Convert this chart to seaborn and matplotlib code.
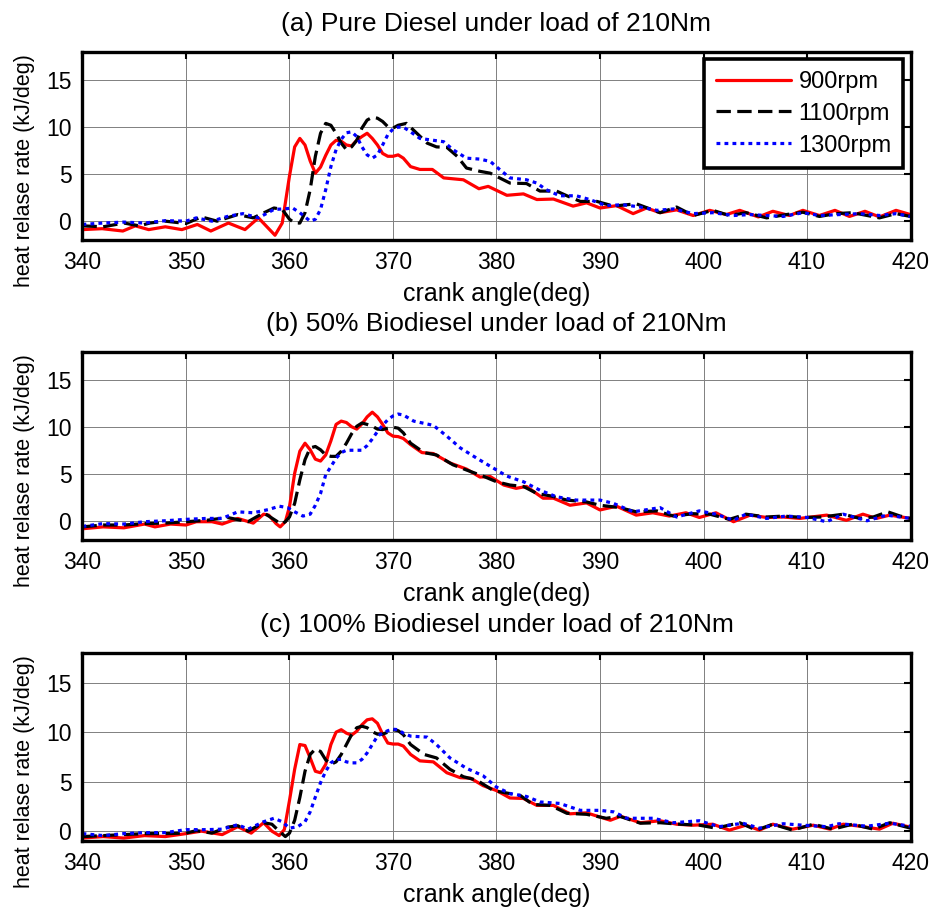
import matplotlib
matplotlib.use("Agg")
import matplotlib.pyplot as plt
import seaborn as sns
import pandas as pd

# ---------------- data ----------------
speeds = ["900rpm", "1100rpm", "1300rpm"]
titles = ["(a) Pure Diesel under load of 210Nm",
          "(b) 50% Biodiesel under load of 210Nm",
          "(c) 100% Biodiesel under load of 210Nm"]
x_ticks = [340, 350, 360, 370, 380, 390, 400, 410, 420]
y_ticks = [0, 5, 10, 15]

# Panel (a) pure diesel
a900_x = [340, 341.9, 343.9, 345.1, 346.4, 348, 349.6, 351.1, 352.4, 354.1, 355.7, 357, 358.6, 359.3,
          360, 360.5, 361, 361.5, 362, 362.5, 363, 363.5, 364, 364.5, 365, 365.5, 366, 366.5, 367, 367.5,
          368, 368.5, 369, 369.5, 370, 370.5, 371,
          371.7, 372.6, 373.8, 374.9, 376.8, 378.3, 379.2, 381, 382.6, 383.9, 385.5, 387.4, 388.7, 390,
          391.6, 393.2, 394.5, 395.8, 397.4, 399, 400.6, 402.2, 403.5, 405.3, 406.7, 408.3, 409.6, 411.2,
          412.7, 414.1, 415.6, 417, 418.6, 420]
a900_y = [-0.9, -0.8, -1.05, -0.5, -0.9, -0.6, -0.9, -0.35, -1.05, -0.2, -0.9, 0.35, -1.5, -0.2,
          4.8, 7.9, 8.8, 8.1, 6.4, 5.1, 5.75, 7.0, 8.1, 8.6, 8.5, 8.1, 8.0, 8.6, 9.0, 9.35,
          8.8, 8.1, 7.2, 6.9, 6.9, 7.05, 6.7,
          5.8, 5.5, 5.5, 4.6, 4.4, 3.45, 3.7, 2.75, 2.9, 2.3, 2.35, 1.6, 1.95, 1.4,
          1.65, 0.8, 1.4, 0.9, 1.2, 0.6, 1.15, 0.7, 1.15, 0.45, 1.05, 0.6, 1.15, 0.6,
          1.15, 0.5, 1.05, 0.45, 1.15, 0.7]
a1100_x = [340, 342, 344, 345.5, 346.5, 348, 350, 351.5, 353, 355, 356.5, 358.5, 359.3, 360, 360.5,
           361, 361.5, 362, 362.5, 363, 363.5, 364, 364.5, 365, 365.5, 366, 366.5, 367, 367.5, 368,
           368.5, 369, 369.5, 370, 370.5, 371.3, 372.3, 373.3, 374.2, 375.2, 376.2, 377.1, 378.4, 379.4,
           380.3, 381.3, 382.9, 384.2, 385.8, 386.8, 388.1, 389.7, 391.3, 393.5, 395.8, 397.4, 399,
           400.9, 402.5, 404.1, 406.1, 408, 409.6, 411.2, 412.8, 414.4, 417, 418.6, 420]
a1100_y = [-0.5, -0.6, -0.2, -0.5, -0.2, 0, -0.25, 0.45, 0, 0.7, 0.35, 1.4, 1.25, 0.2, -0.2,
           -0.2, 0.9, 3.35, 6.9, 9.35, 10.4, 10.2, 9.35, 8.3, 7.6, 7.9, 8.6, 9.9, 10.75, 11.05,
           10.95, 10.6, 10.05, 9.9, 10.2, 10.4, 9.35, 8.3, 7.9, 7.85, 6.9, 5.65, 5.3, 5.1,
           4.6, 4.05, 4.0, 3.2, 3.2, 2.7, 2.1, 2.1, 1.6, 1.85, 0.9, 1.5, 0.6,
           1.15, 0.6, 0.9, 0.35, 0.7, 0.95, 0.5, 0.8, 0.9, 0.35, 0.8, 0.5]
a1300_x = [340, 342, 344, 346, 348, 350, 351, 352.5, 354, 355.5, 357, 358.5, 359.5, 360.3, 361, 362,
           362.5, 363, 363.5, 364, 364.5, 365, 365.5, 366, 366.5, 367, 367.5, 368, 368.5, 369, 369.5,
           370, 370.5, 371, 371.7, 372.6, 373.9, 374.9, 375.8, 377.1, 378.4, 379.4, 380.3, 381.3, 382.9,
           383.9, 384.8, 386.1, 387.7, 389, 390.6, 392.2, 393.9, 395.5, 397.1, 399, 400.9, 402.9, 404.5,
           407.7, 409.6, 411.2, 413.1, 415.1, 417, 418.6, 420]
a1300_y = [-0.35, -0.2, -0.1, -0.2, 0.05, 0, 0.35, 0, 0.5, 0.8, 0.35, 1.25, 1.3, 1.4, 0.9, 0,
           0.2, 1.25, 3.35, 5.8, 7.6, 8.7, 9.4, 9.5, 9.0, 7.9, 7.05, 6.7, 7.05, 8.1, 9.2,
           9.8, 10.0, 10.0, 9.5, 8.8, 8.6, 8.45, 7.6, 6.7, 6.6, 6.35, 5.5, 4.6, 4.4,
           4.05, 3.35, 2.7, 2.7, 2.3, 1.65, 1.75, 1.5, 1.15, 1.3, 0.8, 0.9, 0.6, 0.7,
           0.5, 0.9, 0.6, 0.7, 0.8, 0.6, 0.8, 0.5]

# Panel (b) 50% biodiesel
b900_x = [340, 342, 344, 346, 347, 348.5, 350, 351, 352.5, 353.5, 355, 356.5, 357.5, 358, 358.7, 359.1,
          359.6, 360, 360.5, 361, 361.5, 362, 362.5, 363, 363.5, 364, 364.5, 365, 365.5, 366, 366.5,
          367, 367.5, 368, 368.5, 369, 369.5, 370, 370.5, 371, 371.7, 372.8, 373.9, 375.5, 377.1,
          378.4, 379.4, 380.7, 381.9, 382.9, 384.5, 385.5, 387.1, 388.7, 390, 391.6, 393.5, 395.1,
          396.7, 398.3, 399.6, 401.2, 402.9, 404.5, 406.1, 407.7, 409.3, 411.9, 413.8, 415.4, 416.7,
          418, 420]
b900_y = [-0.8, -0.6, -0.7, -0.3, -0.6, -0.3, -0.4, -0.05, -0.05, -0.3, 0.3, -0.2, 0.75, 0.65, -0.25, -0.6,
          -0.05, 1.55, 5.1, 7.45, 8.3, 7.6, 6.6, 6.4, 7.05, 8.55, 10.3, 10.65, 10.5, 10.05, 9.8,
          10.35, 11.1, 11.6, 11.1, 10.3, 9.4, 9.05, 9.0, 8.8, 8.15, 7.3, 7.2, 6.2, 5.55,
          4.7, 4.75, 3.85, 3.5, 3.7, 2.45, 2.45, 1.7, 1.95, 1.2, 1.6, 0.65, 0.9,
          0.55, 0.9, 0.4, 0.9, -0.05, 0.65, 0.4, 0.45, 0.3, 0.65, 0.1, 0.75, 0.3,
          0.65, 0.3]
b1100_x = [340, 342, 344, 346, 348, 350, 352, 354, 356, 357.5, 359.2, 359.6, 360, 360.5, 361, 361.5,
           362, 362.5, 363, 363.5, 364, 364.5, 365, 365.5, 366, 366.5, 367, 367.5, 368, 368.5, 369,
           369.5, 370, 370.5, 371, 371.7, 373, 374.2, 375.8, 377.1, 378.7, 380, 381.3, 382.6, 383.9,
           385.2, 386.8, 388.7, 390, 391.9, 393.5, 395.5, 397.1, 399, 400.6, 402.5, 404.1, 406.1,
           407.7, 409.6, 411.5, 413.5, 415.1, 416.4, 417.8, 419, 420]
b1100_y = [-0.6, -0.4, -0.4, -0.25, -0.2, -0.05, 0.1, 0.4, -0.05, 0.9, -0.3, -0.05, 0.45, 1.9, 4.4, 6.55,
           7.8, 7.95, 7.6, 7.05, 6.9, 6.9, 7.45, 8.3, 9.3, 10.1, 10.45, 10.3, 10.1, 9.8, 9.75,
           9.9, 10.0, 9.9, 9.4, 8.3, 7.3, 7.05, 6.0, 5.45, 4.8, 4.2, 3.85, 3.7, 2.95,
           2.7, 2.25, 2.05, 1.7, 1.45, 1.0, 1.1, 0.55, 0.8, 0.75, 0.2, 0.75, 0.45,
           0.55, 0.4, 0.45, 0.75, 0.3, 0.45, 1.0, 0.55, 0.3]
b1300_x = [340, 342, 344, 346, 348, 350, 352, 353.5, 355, 356.5, 358, 359, 359.8, 360.5, 361.3, 362,
           362.5, 363, 363.5, 364, 364.5, 365, 365.5, 366, 366.5, 367, 367.5, 368, 368.5, 369, 369.5,
           370, 370.5, 371, 372, 373.9, 375.2, 376.5, 378.1, 379.7, 381, 382.6, 384.2, 385.8, 387.7,
           390, 391.3, 393.2, 395.8, 397.4, 399.6, 401.2, 402.9, 404.1, 406.1, 408, 410, 411.9, 413.5,
           415.8, 417.7, 420]
b1300_y = [-0.55, -0.25, -0.3, -0.05, 0.05, 0.2, 0.3, 0.3, 1.0, 0.9, 1.25, 1.6, 1.45, 1.0, 0.55, 0.75,
           1.7, 2.95, 4.95, 5.8, 6.7, 7.3, 7.55, 7.55, 7.55, 7.55, 8.05, 8.75, 9.55, 10.2, 10.8,
           11.2, 11.4, 11.3, 10.65, 10.2, 9.05, 7.8, 6.7, 5.65, 4.8, 4.2, 3.3, 2.6, 2.25,
           2.25, 1.9, 1.0, 1.45, 0.45, 1.1, 0.75, 0.1, 0.75, 0.3, 0.55, 0.4, -0.05, 0.75,
           0.05, 0.65, 0.3]

# Panel (c) 100% biodiesel
c900_x = [340, 342, 344, 346, 348, 350, 351.5, 353.5, 355, 356.3, 357.5, 358.3, 359, 359.5, 360, 360.5,
          361, 361.5, 362, 362.5, 363, 363.5, 364, 364.5, 365, 365.5, 366, 366.5, 367, 367.5, 368,
          368.5, 369, 369.5, 370, 370.5, 371, 371.7, 372.6, 373.9, 375.2, 376.5, 377.5, 378.7, 380,
          381.3, 382.6, 383.9, 385.5, 387.1, 388.7, 391, 392, 393.9, 395.8, 397.4, 399, 400.9, 402.5,
          404.1, 405.4, 406.7, 408.6, 410.6, 412.2, 413.5, 415.1, 417, 418.3, 420]
c900_y = [-0.7, -0.55, -0.7, -0.45, -0.55, -0.25, 0, -0.35, 0.45, -0.2, 0.85, 0, -0.45, 0.15, 3.1, 6.25,
          8.75, 8.65, 7.4, 6.05, 5.9, 6.75, 8.75, 10.0, 10.25, 9.9, 9.7, 10.1, 10.75, 11.25, 11.35,
          10.9, 9.8, 8.9, 8.8, 8.8, 8.6, 7.75, 7.1, 7.0, 5.9, 5.4, 5.35, 4.6, 4.1,
          3.35, 3.3, 2.6, 2.6, 1.75, 1.85, 1.1, 1.5, 0.85, 1.05, 0.7, 0.6, 0.7, 0.1,
          0.6, 0.1, 0.7, 0.2, 0.6, 0.2, 0.7, 0.5, 0.2, 0.8, 0.4]
c1100_x = [340, 342, 344, 346, 348, 350, 351, 352.5, 354, 355, 356, 357.5, 358.3, 359, 359.6, 360,
           360.5, 361, 361.5, 362, 362.5, 363, 363.5, 364, 364.5, 365, 365.5, 366, 366.5, 367, 367.5,
           368, 368.5, 369, 369.5, 370, 370.5, 371, 371.7, 373, 374.2, 375.5, 376.8, 378.1, 379.7,
           381, 382.3, 383.5, 385.2, 386.8, 388.7, 390.6, 391.9, 393.9, 395.8, 397.7, 399.6, 401.2,
           403.5, 405.1, 406.7, 408.6, 410.6, 412.5, 414.4, 416.4, 418, 420]
c1100_y = [-0.55, -0.45, -0.35, -0.25, -0.25, -0.2, 0.05, -0.2, 0.4, 0.55, 0, 0.85, 0.7, 0, -0.55, -0.2,
           1.1, 3.4, 6.05, 7.75, 8.3, 8.05, 7.2, 6.75, 7.0, 7.75, 8.75, 9.75, 10.45, 10.6, 10.45,
           10.05, 9.8, 9.8, 10.0, 10.25, 10.15, 9.75, 8.75, 7.75, 7.4, 6.25, 5.5, 5.15, 4.1,
           3.85, 3.6, 2.7, 2.6, 1.8, 1.7, 1.3, 1.5, 0.8, 0.85, 0.7, 0.6, 0.3,
           0.85, 0.1, 0.7, 0.1, 0.7, 0.2, 0.7, 0.2, 0.85, 0.3]
c1300_x = [340, 342, 344, 346, 348, 350, 352, 353.5, 355, 356, 357.5, 358.5, 359.3, 360, 360.8, 361.5,
           362, 362.5, 363, 363.5, 364, 364.5, 365, 365.5, 366, 366.5, 367, 367.5, 368, 368.5, 369,
           369.5, 370, 370.5, 371, 371.7, 373.3, 374.2, 375.5, 377.1, 378.7, 380, 381.3, 382.9, 384.2,
           386.1, 388.1, 390, 391.3, 392.6, 395.1, 397.1, 399.6, 401.5, 403.8, 405.4, 407.7, 409.6,
           411.9, 413.1, 415.8, 418, 420]
c1300_y = [-0.25, -0.45, -0.25, -0.15, -0.15, 0.15, 0.15, 0.2, 0.65, 0.2, 0.95, 1.3, 0.95, 0.3, 0.45, 0.95,
           1.95, 3.45, 4.9, 6.05, 6.9, 7.25, 7.25, 7.0, 6.9, 6.9, 7.25, 7.9, 8.75, 9.6, 9.9,
           10.15, 10.3, 10.25, 9.9, 9.6, 9.5, 8.75, 7.4, 6.35, 5.6, 4.45, 3.8, 3.5, 2.95,
           2.8, 2.1, 2.1, 1.95, 1.3, 1.3, 0.85, 1.05, 0.45, 0.8, 0.3, 0.75, 0.6,
           0.45, 0.75, 0.5, 0.8, 0.5]

panels = [
    [(a900_x, a900_y), (a1100_x, a1100_y), (a1300_x, a1300_y)],
    [(b900_x, b900_y), (b1100_x, b1100_y), (b1300_x, b1300_y)],
    [(c900_x, c900_y), (c1100_x, c1100_y), (c1300_x, c1300_y)],
]
y_limits = [(-2, 18), (-2, 18), (-1, 18)]

# ---------------- style ----------------
sns.set_style("white")
plt.rcParams["font.family"] = ["Liberation Sans", "DejaVu Sans"]
plt.rcParams["text.color"] = "black"
plt.rcParams["axes.labelcolor"] = "black"
plt.rcParams["xtick.color"] = "black"
plt.rcParams["ytick.color"] = "black"

colors = {"900rpm": "#ff0000", "1100rpm": "#000000", "1300rpm": "#0000ff"}
dash_styles = {"900rpm": (None, None), "1100rpm": (4.5, 2.0), "1300rpm": (1.2, 1.3)}

fig = plt.figure(figsize=(9.33, 9.11), dpi=100)
axes_pos = [
    [0.0884, 0.7366, 0.8875, 0.2064],
    [0.0884, 0.4072, 0.8875, 0.2064],
    [0.0884, 0.0768, 0.8875, 0.2064],
]

for i, (pos, series, title, ylim) in enumerate(zip(axes_pos, panels, titles, y_limits)):
    ax = fig.add_axes(pos)
    handles = []
    for name, (xs, ys) in zip(speeds, series):
        df = pd.DataFrame({"crank angle": xs, "heat release rate": ys})
        kw = dict(color=colors[name], linewidth=2.3, label=name)
        ls = dash_styles[name]
        if ls[0] is not None:
            kw["dashes"] = ls
        sns.lineplot(data=df, x="crank angle", y="heat release rate", ax=ax,
                     estimator=None, sort=False, legend=False, **kw)
        handles.append(ax.lines[-1])
    ax.set_xlim(340, 420)
    ax.set_ylim(*ylim)
    ax.set_xticks(x_ticks)
    ax.set_yticks(y_ticks)
    ax.grid(True, color="#808080", linewidth=0.7, linestyle="-")
    ax.set_axisbelow(True)
    for sp in ax.spines.values():
        sp.set_linewidth(2.4)
        sp.set_color("black")
        sp.set_visible(True)
    ax.tick_params(direction="in", length=5, width=1.5, top=True, right=True,
                   labelsize=16.5, pad=8, colors="black")
    ax.set_xlabel("crank angle(deg)", fontsize=18, labelpad=6, color="black")
    ax.set_ylabel("heat relase rate (kJ/deg)", fontsize=15.5, labelpad=6, color="black")
    ax.yaxis.set_label_coords(-0.057, 0.37)
    ax.set_title(title, fontsize=19, pad=15, color="black")
    if i == 0:
        leg = ax.legend(handles=handles, labels=speeds, loc="upper right",
                        fontsize=17, frameon=True, fancybox=False, edgecolor="black",
                        framealpha=1, handlelength=3.2, handletextpad=0.3,
                        borderpad=0.5, labelspacing=0.42, borderaxespad=0.3)
        leg.get_frame().set_linewidth(2.6)
        for t in leg.get_texts():
            t.set_color("black")

fig.savefig("out.png", dpi=100)
